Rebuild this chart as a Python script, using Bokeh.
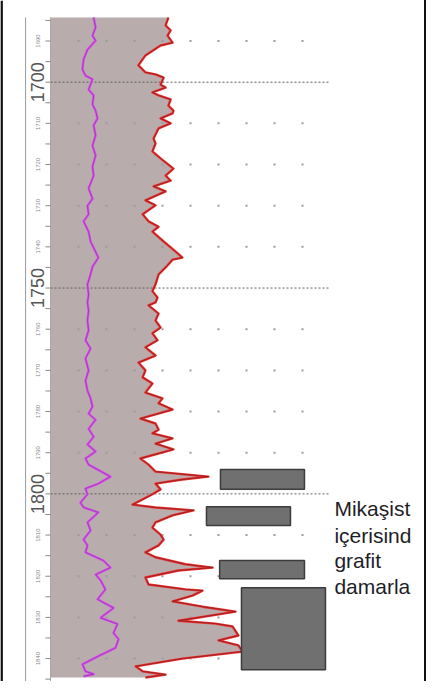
import math
from bokeh.plotting import figure
from bokeh.models import Range1d
from bokeh.core.properties import value
from bokeh.embed import file_html
from bokeh.resources import INLINE

# ---------------- data ----------------
red_depth = [1684.3, 1686.2, 1687.4, 1688.7, 1690.4, 1691.1, 1693.5, 1695.9, 1697.6, 1698.1,
             1698.9, 1700.6, 1701.3, 1702.5, 1703.2, 1704.2, 1705.7, 1706.9, 1707.6, 1708.8,
             1710.0, 1711.2, 1713.7, 1714.9, 1716.8, 1718.5, 1721.0, 1722.7, 1723.9, 1725.3,
             1726.5, 1728.7, 1729.9, 1732.1, 1733.8, 1735.1, 1736.3, 1738.7, 1741.1, 1742.6,
             1743.1, 1745.0, 1746.7, 1749.1, 1750.8, 1752.3, 1753.5, 1754.2, 1756.2, 1757.9,
             1759.6, 1761.0, 1762.7, 1764.4, 1766.4, 1768.1, 1770.0, 1771.7, 1773.2, 1775.4,
             1776.8, 1778.0, 1779.5, 1780.7, 1781.7, 1782.9, 1784.4, 1785.3, 1786.5, 1787.8,
             1789.2, 1791.4, 1792.9, 1794.6, 1795.8, 1796.5, 1797.5, 1798.9, 1800.1, 1802.6,
             1803.3, 1804.0, 1805.2, 1806.9, 1808.2, 1809.9, 1811.1, 1812.5, 1814.2, 1815.4,
             1817.1, 1817.9, 1818.6, 1820.3, 1822.0, 1823.2, 1823.5, 1824.7, 1826.1, 1827.4,
             1828.6, 1830.8, 1831.5, 1832.2, 1834.4, 1835.6, 1836.8, 1838.3, 1840.0, 1841.9,
             1843.1, 1843.9, 1844.6]
red_val = [42.1, 41.1, 42.9, 41.8, 43.6, 39.3, 33.9, 31.4, 33.9, 37.5,
           40.4, 39.3, 41.1, 36.4, 38.6, 42.9, 42.1, 43.9, 43.6, 39.3,
           42.9, 38.6, 36.8, 37.5, 36.4, 39.3, 43.9, 41.1, 42.9, 36.8,
           41.1, 33.9, 37.5, 32.9, 35.0, 38.6, 36.4, 40.4, 44.6, 47.1,
           43.6, 41.1, 38.6, 37.5, 36.4, 38.2, 37.5, 35.0, 38.6, 37.5,
           39.3, 36.4, 38.2, 33.9, 37.5, 31.4, 33.9, 32.9, 36.4, 33.9,
           40.0, 38.6, 43.6, 37.5, 32.1, 37.5, 38.6, 36.4, 43.6, 37.5,
           43.9, 32.1, 35.0, 37.5, 56.4, 47.1, 37.5, 39.3, 36.4, 29.3,
           37.5, 51.1, 43.6, 37.5, 36.4, 39.3, 40.4, 38.6, 33.9, 37.5,
           48.2, 57.9, 45.7, 33.9, 35.0, 48.2, 54.3, 50.7, 43.6, 54.3,
           66.1, 45.7, 58.9, 65.0, 67.1, 60.0, 67.1, 68.6, 47.1, 30.4,
           32.9, 41.1, 33.9]

purple_depth = [1684.3, 1686.7, 1688.7, 1689.9, 1692.1, 1694.5, 1696.9, 1698.4, 1699.3, 1701.8,
                1703.2, 1705.4, 1706.9, 1708.8, 1710.5, 1712.9, 1715.4, 1717.8, 1720.5, 1722.7,
                1725.8, 1728.3, 1730.0, 1732.1, 1733.8, 1736.3, 1738.7, 1742.6, 1744.8, 1746.7,
                1749.1, 1751.6, 1753.5, 1755.5, 1757.9, 1760.3, 1762.7, 1764.7, 1767.1, 1770.0,
                1772.5, 1774.9, 1776.8, 1778.8, 1780.5, 1782.0, 1784.2, 1786.1, 1788.0, 1789.7,
                1791.4, 1792.9, 1795.8, 1797.5, 1798.7, 1800.1, 1802.1, 1803.3, 1804.5, 1806.9,
                1808.9, 1811.1, 1812.5, 1814.2, 1816.2, 1817.9, 1819.6, 1821.0, 1823.2, 1825.6,
                1827.7, 1830.1, 1831.6, 1833.8, 1835.3, 1837.4, 1839.4, 1841.4, 1843.1, 1843.8,
                1844.3]
purple_val = [15.4, 16.1, 15.0, 16.1, 13.2, 11.8, 11.4, 12.5, 15.0, 13.6,
              15.4, 15.0, 16.1, 16.8, 15.4, 16.1, 15.0, 16.1, 15.0, 15.4,
              13.6, 15.0, 13.2, 13.6, 11.8, 13.6, 14.3, 17.1, 15.0, 14.3,
              13.2, 13.6, 13.2, 13.6, 13.2, 13.6, 12.5, 14.3, 12.5, 13.6,
              12.5, 13.2, 14.3, 15.0, 13.6, 16.1, 13.6, 15.4, 13.2, 16.1,
              12.5, 13.6, 21.4, 17.1, 12.5, 13.2, 10.7, 11.8, 17.1, 13.2,
              14.3, 11.8, 13.2, 12.5, 18.9, 21.4, 16.1, 17.9, 19.6, 16.8,
              22.5, 17.9, 23.9, 22.5, 24.3, 23.2, 17.1, 11.4, 12.5, 15.4,
              11.8]

major_ticks = [1700, 1750, 1800]
minor_ticks = [1690, 1710, 1720, 1730, 1740, 1760, 1770, 1780, 1790, 1810, 1820, 1830, 1840]
small_ticks = list(range(1685, 1846, 5))
grid_vals = [10, 20, 30, 40, 50, 60, 70, 80, 90]

box_left = [60.7, 55.7, 60.4, 68.2]
box_right = [90.7, 85.7, 90.7, 98.2]
box_top = [1794.1, 1803.1, 1816.2, 1822.8]
box_bottom = [1798.9, 1807.7, 1820.6, 1842.7]

# annotation as visible in the reference (cut at the right edge there)
note_lines = ["Mikaşist", "içerisind", "grafit", "damarla"]
note_depths = [1803.5, 1810.0, 1816.3, 1822.6]

# ---------------- figure ----------------
X0, X1 = -17.86, 130.71
Y_BOTTOM, Y_TOP = 1845.57, 1680.16
p = figure(width=426, height=681, output_backend="svg", toolbar_location=None,
           x_range=Range1d(X0, X1), y_range=Range1d(Y_BOTTOM, Y_TOP),
           x_axis_location=None, y_axis_location=None,
           min_border_left=0, min_border_top=0, min_border_bottom=0, min_border_right=10)
p.xgrid.visible = False
p.ygrid.visible = False
p.outline_line_color = None
p.background_fill_color = "white"
p.border_fill_color = "white"
p.styles = {"border-right": "2px solid #111111"}

top = red_depth[0]

# track fill between 0 and red curve
p.harea(x1=[0] * len(red_depth), x2=red_val, y=red_depth, fill_color="#b8acac", fill_alpha=1.0)

# dot grid
dx, dy = [], []
for d in minor_ticks:
    for g in grid_vals:
        dx.append(g)
        dy.append(d)
p.scatter(dx, dy, marker="square", size=2, fill_color="#9c9c9c", line_color=None)

# dotted major lines
for d in major_ticks:
    p.line([0, 99.3], [d, d], line_color="#606060", line_width=1, line_dash="2 2")

# left page border
p.line([X0 + 0.4, X0 + 0.4], [Y_TOP, Y_BOTTOM], line_color="#111111", line_width=2.5)

# depth axis line and track edge
p.line([-8.9, -8.9], [top, Y_BOTTOM], line_color="#9a9a9a", line_width=1)
p.line([0, 0], [top, Y_BOTTOM], line_color="#a8a8a8", line_width=1)

# small ticks
p.segment(x0=[-1.8] * len(small_ticks), x1=[0] * len(small_ticks), y0=small_ticks, y1=small_ticks,
          line_color="#8a8a8a", line_width=1)

# depth labels
p.text(x=[-4.6] * len(major_ticks), y=major_ticks, text=[str(t) for t in major_ticks],
       angle=math.pi / 2, text_align="center", text_baseline="middle",
       text_font=value("Liberation Sans"), text_font_size="18px", text_color="#555555")
p.text(x=[-4.3] * len(minor_ticks), y=minor_ticks, text=[str(t) for t in minor_ticks],
       angle=math.pi / 2, text_align="center", text_baseline="middle",
       text_font=value("Liberation Sans"), text_font_size="6px", text_color="#8a8a8a")

# curves
p.line(purple_val, purple_depth, line_color="#e04ef0", line_width=2.4, line_join="round")
p.line(purple_val, purple_depth, line_color="#7d3c9c", line_width=0.9, line_alpha=0.8, line_join="round")
p.line(red_val, red_depth, line_color="#f03030", line_width=2.4, line_join="round")
p.line(red_val, red_depth, line_color="#7a1e1e", line_width=0.9, line_alpha=0.8, line_join="round")

# graphite vein boxes
p.quad(left=box_left, right=box_right, top=box_top, bottom=box_bottom,
       fill_color="#707070", line_color="#3c3c3c", line_width=1.5)

# annotation text
p.text(x=[101.4] * len(note_lines), y=note_depths, text=note_lines,
       text_align="left", text_baseline="alphabetic",
       text_font=value("Liberation Sans"), text_font_size="21px", text_color="#1e1e28")

open("out.html", "w").write(file_html(p, INLINE))
